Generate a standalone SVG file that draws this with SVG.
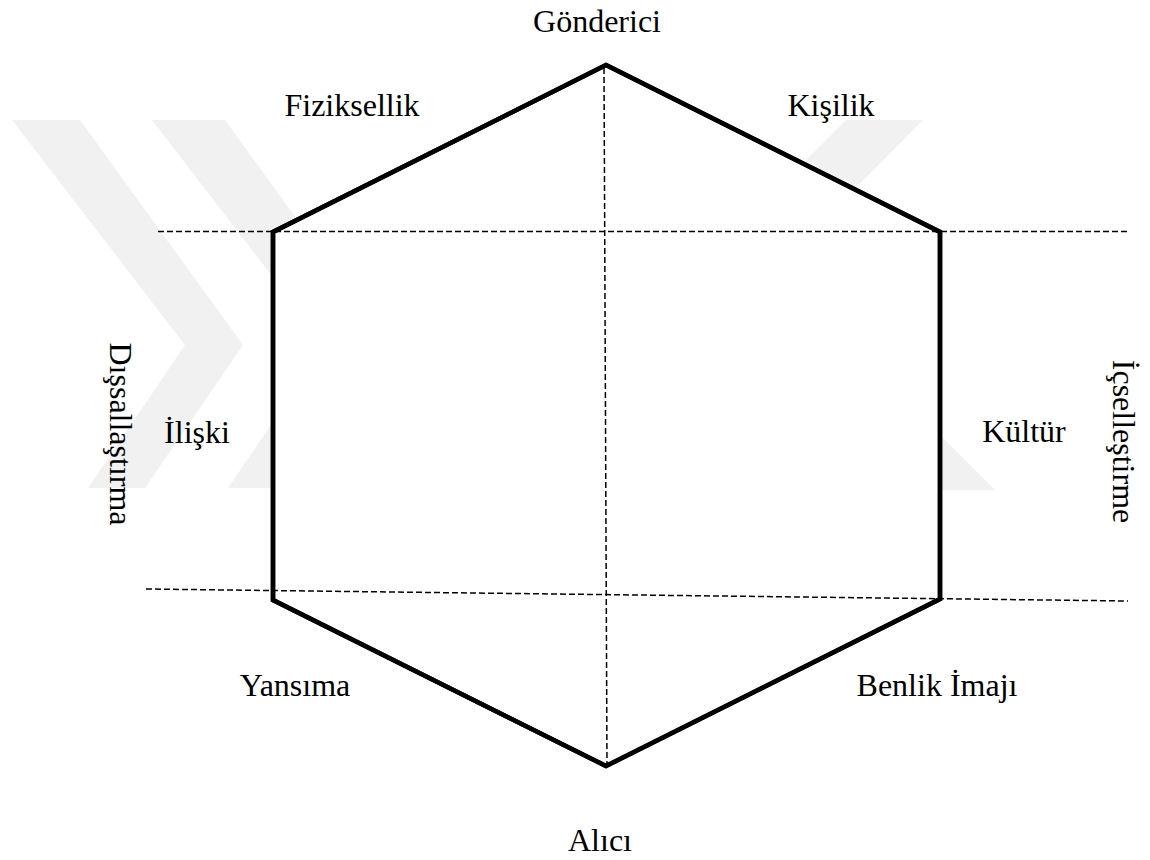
<svg xmlns="http://www.w3.org/2000/svg" width="1150" height="860" viewBox="0 0 1150 860">
<style>
.wm{fill:#f1f1f1;stroke:none}
.hex{fill:#ffffff;stroke:#000000;stroke-width:4.5;stroke-linejoin:miter}
.dash{fill:none;stroke:#000000;stroke-width:1.5;stroke-dasharray:6 3}
.lbl{font-family:"Liberation Serif","Times New Roman",serif;font-size:32px;fill:#000000;text-anchor:middle}
</style>
<rect width="1150" height="860" fill="#ffffff"/>
<g id="watermark">
<polygon class="wm" points="12,120 80,120 243,345 145,488 88,488 185,345"/>
<polygon class="wm" points="152,120 225,120 388,345 290,488 228,488 325,345"/>
<polygon class="wm" points="846,120 923,120 700,345 620,345"/>
<polygon class="wm" points="850,345 995,490 880,490 760,345"/>
</g>
<g id="hexagon">
<polygon class="hex" points="606,65 940,232 940,599 606,766 273,600 273,232"/>
</g>
<g id="connectors">
<line class="dash" x1="604" y1="68" x2="607" y2="766"/>
<line class="dash" x1="158" y1="231.5" x2="1130" y2="231.5"/>
<line class="dash" x1="146" y1="589" x2="1128" y2="601"/>
</g>
<g id="hexagon-outline">
<polygon points="606,65 940,232 940,599 606,766 273,600 273,232" fill="none" stroke="#000" stroke-width="4.5"/>
</g>
<g id="label-gonderici"><text class="lbl" x="597" y="32">Gönderici</text></g>
<g id="label-fiziksellik"><text class="lbl" x="352" y="116">Fiziksellik</text></g>
<g id="label-kisilik"><text class="lbl" x="831" y="116">Kişilik</text></g>
<g id="label-iliski"><text class="lbl" x="197" y="443">İlişki</text></g>
<g id="label-kultur"><text class="lbl" x="1024" y="442">Kültür</text></g>
<g id="label-yansima"><text class="lbl" x="295" y="696">Yansıma</text></g>
<g id="label-benlik"><text class="lbl" x="937" y="696">Benlik İmajı</text></g>
<g id="label-alici"><text class="lbl" x="600" y="851">Alıcı</text></g>
<g id="label-dissallastirma"><text class="lbl" transform="translate(110,434) rotate(90)">Dışsallaştırma</text></g>
<g id="label-icsellestirme"><text class="lbl" transform="translate(1113,441.5) rotate(90)">İçselleştirme</text></g>
</svg>
